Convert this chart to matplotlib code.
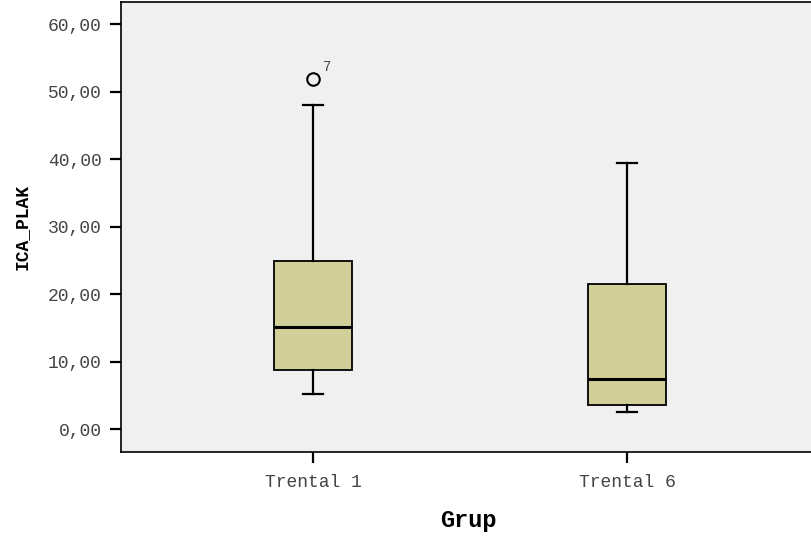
import matplotlib.pyplot as plt

grupos = ["Trental 1", "Trental 6"]
bigote_inf = [5.2, 2.5]
q1 = [8.75, 3.6]
mediana = [15.1, 7.4]
q3 = [24.9, 21.5]
bigote_sup = [48.0, 39.4]
atipicos = [[51.85], []]
etiquetas_atipicos = [["7"], []]
yticks = [0, 10, 20, 30, 40, 50, 60]

plt.rcParams['font.family'] = ['Liberation Mono', 'DejaVu Sans Mono']

fig = plt.figure(figsize=(8.12, 5.37), dpi=100)
ax = fig.add_axes([0.149, 0.158, 0.851, 0.838])
ax.set_facecolor('#f0f0f0')

stats = []
for i in range(len(grupos)):
    stats.append(dict(label=grupos[i], whislo=bigote_inf[i], q1=q1[i], med=mediana[i],
                      q3=q3[i], whishi=bigote_sup[i], fliers=atipicos[i]))

pos = [1, 2]
ax.bxp(stats, positions=pos, widths=0.25, patch_artist=True,
       boxprops=dict(facecolor='#d3cf99', edgecolor='black', linewidth=1.3),
       medianprops=dict(color='black', linewidth=2.2),
       whiskerprops=dict(color='black', linewidth=1.6),
       capprops=dict(color='black', linewidth=1.6),
       capwidths=0.064,
       flierprops=dict(marker='o', markerfacecolor='none', markeredgecolor='black',
                       markersize=9, markeredgewidth=1.5))

for i, p in enumerate(pos):
    for v, t in zip(atipicos[i], etiquetas_atipicos[i]):
        ax.annotate(t, (p, v), xytext=(7, 6), textcoords='offset points',
                    fontsize=10, color='#444444')

ax.set_xlim(0.389, 2.589)
ax.set_ylim(-3.41, 63.26)
ax.set_yticks(yticks)
ax.set_yticklabels([f"{v:.2f}".replace('.', ',') for v in yticks], color='#444444', fontsize=13)
ax.set_xticks(pos)
ax.set_xticklabels(grupos, color='#444444', fontsize=13)
ax.tick_params(axis='both', direction='out', length=8, width=1.6)
ax.tick_params(axis='y', pad=6)
ax.tick_params(axis='x', pad=8)
for s in ax.spines.values():
    s.set_linewidth(1.2)

ax.set_ylabel("ICA_PLAK", fontweight='bold', fontsize=13)
ax.yaxis.set_label_coords(-0.13, 0.5)
ax.set_xlabel("Grup", fontweight='bold', fontsize=17)
ax.xaxis.set_label_coords(0.502, -0.127)

fig.savefig("out.png", dpi=100)
